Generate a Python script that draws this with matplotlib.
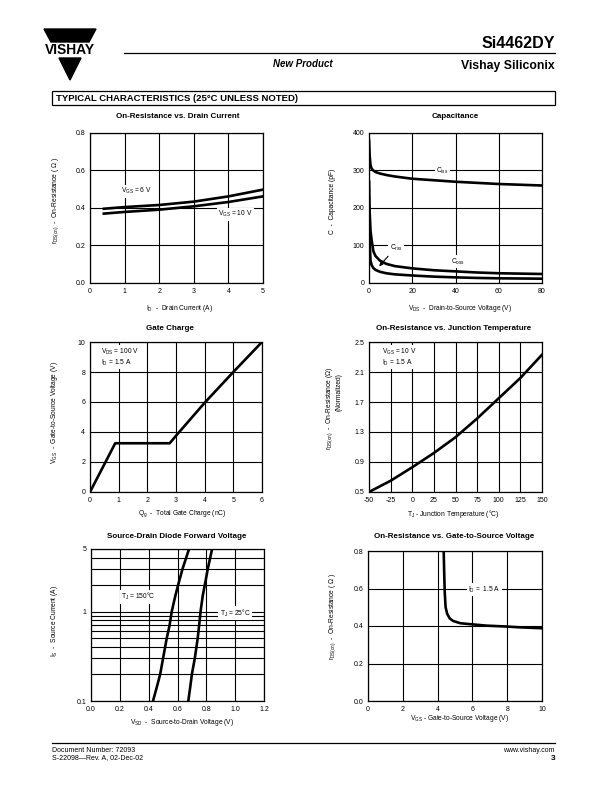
import matplotlib.pyplot as plt
import numpy as np
from matplotlib.patches import Polygon, Rectangle

plt.rcParams['font.family'] = ['Liberation Sans', 'DejaVu Sans']
plt.rcParams['mathtext.fontset'] = 'custom'
plt.rcParams['mathtext.rm'] = 'Liberation Sans'
plt.rcParams['mathtext.it'] = 'Liberation Sans:italic'
plt.rcParams['mathtext.bf'] = 'Liberation Sans:bold'
plt.rcParams['axes.unicode_minus'] = False

# --- data ---
# on-resistance vs drain current
id_a = [0.4, 1, 2, 3, 4, 5]
rds_6v = [0.396, 0.405, 0.416, 0.434, 0.462, 0.498]
rds_10v = [0.370, 0.379, 0.391, 0.409, 0.432, 0.462]

# capacitance
vds_v = [0.05, 0.3, 0.7, 1.2, 2, 3, 5, 8, 12, 20, 30, 40, 50, 60, 70, 80]
ciss = [380, 340, 315, 305, 300, 296, 292, 288, 284, 278, 274, 270, 267, 264, 262, 260]
coss = [270, 190, 140, 115, 85, 72, 60, 51, 45, 39, 34, 31, 28, 26, 25, 24]
crss = [200, 110, 60, 48, 40, 35, 30, 26, 23, 20, 17, 15, 13.5, 12.5, 12, 11.5]

# gate charge
qg_nc = [0, 0.88, 2.78, 3.0, 4.0, 5.0, 6.0]
vgs_v = [0, 3.25, 3.25, 3.75, 5.95, 8.0, 10.0]

# on-resistance vs junction temperature
tj_c = [-50, -25, 0, 25, 50, 75, 100, 125, 150]
rds_norm = [0.50, 0.65, 0.83, 1.02, 1.23, 1.48, 1.75, 2.02, 2.33]

# source-drain diode
is_a = [0.1, 0.15, 0.2, 0.3, 0.5, 0.7, 1, 1.5, 2, 3, 5]
vsd_150 = [0.43, 0.46, 0.48, 0.50, 0.525, 0.545, 0.56, 0.585, 0.605, 0.635, 0.68]
vsd_25 = [0.675, 0.69, 0.70, 0.72, 0.74, 0.75, 0.76, 0.775, 0.79, 0.81, 0.84]

# on-resistance vs gate-to-source voltage
vgs_sweep = [4.35, 4.38, 4.41, 4.46, 4.55, 4.7, 4.89, 5.3, 5.84, 6.8, 8.0, 8.7, 10]
rds_vgs = [0.80, 0.68, 0.58, 0.50, 0.465, 0.44, 0.427, 0.415, 0.41, 0.402, 0.397, 0.393, 0.388]

W, H = 612, 792
fig = plt.figure(figsize=(6.12, 7.92), dpi=100)

# page overlay in pixel units for header / footer / labels
page = fig.add_axes([0, 0, 1, 1])
page.set_xlim(0, W)
page.set_ylim(H, 0)
page.axis('off')


def make_ax(x0, x1, y0, y1):
    ax = fig.add_axes([x0 / W, 1 - y1 / H, (x1 - x0) / W, (y1 - y0) / H])
    for s in ax.spines.values():
        s.set_linewidth(0.9)
        s.set_color('black')
    ax.grid(True, which='both', color='black', linewidth=0.8)
    ax.set_axisbelow(True)
    ax.tick_params(which='both', length=0, labelsize=5, pad=3.5)
    return ax


lw = 1.9
tfs = 5.8  # titles
lfs = 4.8  # axis labels
nfs = 4.8  # notes inside plots
white = dict(facecolor='white', edgecolor='none', pad=1.0)

# header
logo_top = Polygon([[44, 29], [96, 29], [89, 42], [51, 42]], closed=True, color='black')
logo_bot = Polygon([[59, 58], [81, 58], [70, 80]], closed=True, color='black')
page.add_patch(logo_top)
page.add_patch(logo_bot)
page.text(70, 50.5, 'VISHAY', ha='center', va='center', fontsize=10, weight='bold')
page.text(555, 43, 'Si4462DY', ha='right', va='center', fontsize=11.5, weight='bold')
page.plot([124, 555], [53, 53], color='black', lw=0.9)
page.text(303, 64, 'New Product', ha='center', va='center', fontsize=7, weight='bold', style='italic')
page.text(555, 66, 'Vishay Siliconix', ha='right', va='center', fontsize=8.8, weight='bold')
page.add_patch(Rectangle((52, 91), 503, 14, fill=False, edgecolor='black', lw=0.9))
page.text(56, 98.5, 'TYPICAL CHARACTERISTICS (25\u00b0C UNLESS NOTED)', ha='left', va='center',
          fontsize=6.8, weight='bold')

# footer
page.plot([52, 555], [743, 743], color='black', lw=0.9)
page.text(52, 750, 'Document Number: 72093', ha='left', va='center', fontsize=5)
page.text(52, 757.5, 'S-22098\u2014Rev. A, 02-Dec-02', ha='left', va='center', fontsize=5)
page.text(555, 750, 'www.vishay.com', ha='right', va='center', fontsize=5)
page.text(555, 758, '3', ha='right', va='center', fontsize=6, weight='bold')

rds_label = r'$\mathrm{r_{DS(on)}}$  -  On-Resistance ( $\Omega$ )'

# 1. on-resistance vs drain current
ax1 = make_ax(90, 263, 133, 283)
ax1.plot(id_a, rds_6v, color='black', lw=lw)
ax1.plot(id_a, rds_10v, color='black', lw=lw)
ax1.set_xlim(0, 5)
ax1.set_ylim(0, 0.8)
ax1.set_xticks(range(0, 6))
ax1.set_yticks([0, 0.2, 0.4, 0.6, 0.8])
ax1.set_yticklabels(['0.0', '0.2', '0.4', '0.6', '0.8'])
ax1.text(1.35, 0.49, r'V$_{\mathrm{GS}}$ = 6 V', fontsize=nfs, ha='center', va='center', bbox=white)
ax1.text(4.2, 0.366, r'V$_{\mathrm{GS}}$ = 10 V', fontsize=nfs, ha='center', va='center', bbox=white)
page.text(178, 117, 'On-Resistance vs. Drain Current', ha='center', va='center', fontsize=tfs, weight='bold')
page.text(180, 308, r'I$_{\mathrm{D}}$  -  Drain Current (A)', ha='center', va='center', fontsize=lfs)
page.text(56, 200, rds_label, ha='center', va='center', rotation=90, fontsize=lfs)

# 2. capacitance
ax2 = make_ax(369, 542, 133, 283)
ax2.plot(vds_v, ciss, color='black', lw=lw)
ax2.plot(vds_v, coss, color='black', lw=lw)
ax2.plot(vds_v, crss, color='black', lw=lw)
ax2.set_xlim(0, 80)
ax2.set_ylim(0, 400)
ax2.set_xticks([0, 20, 40, 60, 80])
ax2.set_yticks([0, 100, 200, 300, 400])
ax2.text(34, 299, r'C$_{\mathrm{iss}}$', fontsize=nfs, ha='center', va='center', bbox=white)
ax2.text(41, 57, r'C$_{\mathrm{oss}}$', fontsize=nfs, ha='center', va='center', bbox=white)
ax2.text(12.5, 94, r'C$_{\mathrm{rss}}$', fontsize=nfs, ha='center', va='center', bbox=white)
ax2.annotate('', xy=(3.85, 39), xytext=(9.7, 77),
             arrowprops=dict(arrowstyle='-|>', color='black', lw=0.8, mutation_scale=5))
page.text(455, 117, 'Capacitance', ha='center', va='center', fontsize=tfs, weight='bold')
page.text(460, 308, r'V$_{\mathrm{DS}}$  -  Drain-to-Source Voltage (V)', ha='center', va='center', fontsize=lfs)
page.text(333, 201, 'C  -  Capacitance (pF)', ha='center', va='center', rotation=90, fontsize=lfs)

# 3. gate charge
ax3 = make_ax(90, 262, 342, 492)
ax3.plot(qg_nc, vgs_v, color='black', lw=lw)
ax3.set_xlim(0, 6)
ax3.set_ylim(0, 10)
ax3.set_xticks(range(0, 7))
ax3.set_yticks([0, 2, 4, 6, 8, 10])
ax3.text(0.4, 8.98, 'V$_{\\mathrm{DS}}$ = 100 V\nI$_{\\mathrm{D}}$ = 1.5 A', fontsize=nfs,
         ha='left', va='center', linespacing=1.15, bbox=white)
page.text(170, 329, 'Gate Charge', ha='center', va='center', fontsize=tfs, weight='bold')
page.text(182, 514, r'Q$_{\mathrm{g}}$  -  Total Gate Charge (nC)', ha='center', va='center', fontsize=lfs)
page.text(55, 413, r'V$_{\mathrm{GS}}$  -  Gate-to-Source Voltage (V)', ha='center', va='center',
          rotation=90, fontsize=lfs)

# 4. on-resistance vs junction temperature
ax4 = make_ax(369, 542, 342, 492)
ax4.plot(tj_c, rds_norm, color='black', lw=lw)
ax4.set_xlim(-50, 150)
ax4.set_ylim(0.5, 2.5)
ax4.set_xticks(range(-50, 151, 25))
ax4.set_yticks([0.5, 0.9, 1.3, 1.7, 2.1, 2.5])
ax4.text(-35, 2.296, 'V$_{\\mathrm{GS}}$ = 10 V\nI$_{\\mathrm{D}}$ = 1.5 A', fontsize=nfs,
         ha='left', va='center', linespacing=1.15, bbox=white)
page.text(454, 329, 'On-Resistance vs. Junction Temperature', ha='center', va='center', fontsize=tfs, weight='bold')
page.text(453, 514, 'T$_{\\mathrm{J}}$ - Junction Temperature (\u00b0C)', ha='center', va='center', fontsize=lfs)
page.text(330, 408, r'$\mathrm{r_{DS(on)}}$  -  On-Resistance ($\Omega$)', ha='center', va='center',
          rotation=90, fontsize=lfs)
page.text(339, 392, '(Normalized)', ha='center', va='center', rotation=90, fontsize=lfs)

# 5. source-drain diode forward voltage
ax5 = make_ax(91, 264, 549, 701)
ax5.plot(vsd_150, is_a, color='black', lw=lw)
ax5.plot(vsd_25, is_a, color='black', lw=lw)
ax5.set_yscale('log')
ax5.set_xlim(0, 1.2)
ax5.set_ylim(0.1, 5)
ax5.set_xticks([0, 0.2, 0.4, 0.6, 0.8, 1.0, 1.2])
ax5.set_xticklabels(['0.0', '0.2', '0.4', '0.6', '0.8', '1.0', '1.2'])
ax5.set_yticks([0.1, 1, 5])
ax5.set_yticklabels(['0.1', '1', '5'])
ax5.set_yticks([0.2, 0.3, 0.4, 0.5, 0.6, 0.7, 0.8, 0.9, 2, 3, 4], minor=True)
ax5.set_yticklabels([], minor=True)
ax5.text(0.33, 1.47, 'T$_{\\mathrm{J}}$ = 150\u00b0C', fontsize=nfs, ha='center', va='center', bbox=white)
ax5.text(1.0, 0.96, 'T$_{\\mathrm{J}}$ = 25\u00b0C', fontsize=nfs, ha='center', va='center', bbox=white)
page.text(177, 537, 'Source-Drain Diode Forward Voltage', ha='center', va='center', fontsize=tfs, weight='bold')
page.text(182, 722, r'V$_{\mathrm{SD}}$  -  Source-to-Drain Voltage (V)', ha='center', va='center', fontsize=lfs)
page.text(55, 621, r'I$_{\mathrm{S}}$  -  Source Current (A)', ha='center', va='center', rotation=90, fontsize=lfs)

# 6. on-resistance vs gate-to-source voltage
ax6 = make_ax(368, 542, 551, 701)
ax6.plot(vgs_sweep, rds_vgs, color='black', lw=lw)
ax6.set_xlim(0, 10)
ax6.set_ylim(0, 0.8)
ax6.set_xticks([0, 2, 4, 6, 8, 10])
ax6.set_yticks([0, 0.2, 0.4, 0.6, 0.8])
ax6.set_yticklabels(['0.0', '0.2', '0.4', '0.6', '0.8'])
ax6.text(6.67, 0.592, r'I$_{\mathrm{D}}$ =  1.5 A', fontsize=nfs, ha='center', va='center', bbox=white)
page.text(454, 537, 'On-Resistance vs. Gate-to-Source Voltage', ha='center', va='center', fontsize=tfs, weight='bold')
page.text(460, 719, r'V$_{\mathrm{GS}}$ - Gate-to-Source Voltage (V)', ha='center', va='center', fontsize=lfs)
page.text(333, 616, rds_label, ha='center', va='center', rotation=90, fontsize=lfs)

fig.savefig('out.png', dpi=100)
